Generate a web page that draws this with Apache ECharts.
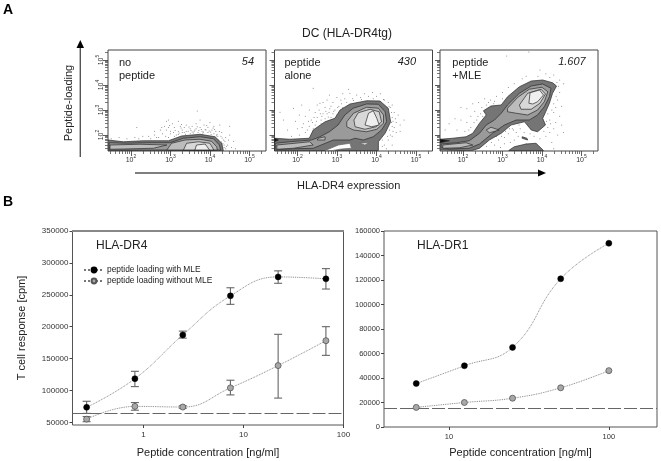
<!DOCTYPE html>
<html><head><meta charset="utf-8">
<style>html,body{margin:0;padding:0;background:#fff}#c{width:661px;height:461px}</style>
<script src="https://cdn.jsdelivr.net/npm/echarts@6/dist/echarts.min.js"></script></head>
<body><div id="c"></div>
<script>
// ---------- Panel A: flow cytometry, coordinates in log10 decades ----------
const flowMajorDecades = [2, 3, 4, 5];
const flowMinorMultipliers = [2, 3, 4, 5, 6, 7, 8, 9];
const panelNames = ['no\npeptide', 'peptide\nalone', 'peptide\n+MLE'];
const panelCounts = ['54', '430', '1.607'];

const p1Levels = [0, 1, 2, 2, 3, 4];
const p1Contours = [
 [[1.42,1.37],[1.42,1.80],[1.81,1.73],[2.31,1.77],[2.95,1.77],[3.28,1.96],[3.75,2.03],[4.13,1.93],[4.30,1.67],[4.34,1.37]],
 [[1.45,1.40],[1.45,1.69],[1.89,1.67],[2.40,1.69],[2.99,1.69],[3.33,1.87],[3.75,1.93],[4.09,1.85],[4.24,1.60],[4.27,1.40]],
 [[2.91,1.40],[3.03,1.67],[3.37,1.80],[3.75,1.83],[4.04,1.75],[4.17,1.53],[4.19,1.40]],
 [[1.47,1.60],[2.23,1.63],[2.91,1.60],[2.57,1.47],[1.81,1.44],[1.47,1.43]],
 [[3.33,1.40],[3.41,1.67],[3.71,1.73],[4.00,1.67],[4.10,1.40]],
 [[3.62,1.40],[3.66,1.60],[3.88,1.64],[3.99,1.40]]
];
const p1Dots = [[1.5,1.85],[1.7,1.9],[1.9,1.85],[2.15,2.3],[2.1,1.9],[2.3,1.95],[2.45,1.95],[2.6,2.0],[2.6,2.15],[2.75,2.2],[2.8,2.05],[2.85,2.35],[2.9,2.55],[2.9,2.2],[2.95,2.6],[3.0,2.15],[3.0,2.05],[3.05,2.45],[3.1,2.3],[3.15,2.0],[3.2,2.55],[3.2,2.15],[3.25,2.35],[3.3,2.2],[3.35,2.1],[3.35,2.3],[3.4,2.4],[3.45,2.15],[3.5,2.25],[3.5,2.05],[3.55,2.35],[3.6,2.15],[3.65,2.45],[3.65,2.25],[3.7,2.1],[3.75,2.6],[3.75,2.3],[3.8,2.15],[3.85,2.4],[3.9,2.2],[3.95,2.3],[3.95,2.1],[4.0,2.5],[4.05,2.2],[4.1,2.35],[4.1,2.05],[4.15,2.15],[4.2,1.95],[4.25,2.4],[4.3,2.1],[4.35,1.8],[4.4,1.9],[4.45,1.6],[4.5,2.0],[4.5,2.35],[4.55,1.5],[4.6,1.75],[4.4,1.45],[4.65,1.45],[3.68,2.96],[3.3,2.1],[3.4,2.15],[3.55,2.12],[3.62,2.2],[3.72,2.18],[3.82,2.08],[3.88,2.22],[4.02,2.12],[4.08,2.28],[4.18,2.02],[4.22,1.8],[4.28,1.95],[4.33,1.65],[4.38,1.75],[4.42,1.55],[2.2,1.85],[2.5,1.85],[2.7,1.9],[2.95,1.9],[3.1,1.95],[3.2,2.02],[2.95,2.3],[3.12,2.18],[3.28,2.42],[3.22,2.08],[3.27,2.28],[3.38,2.03],[3.47,2.32],[3.52,2.18],[3.58,2.08],[3.68,2.33],[3.78,2.22],[3.84,2.12],[3.92,2.38],[3.98,2.16],[4.03,2.02],[4.12,2.22],[4.17,1.97],[4.24,2.14],[4.31,1.88],[4.36,1.6],[4.29,1.72],[4.47,1.8],[4.36,1.5],[3.08,2.1],[2.98,2.38],[2.88,1.95],[2.78,2.3],[2.65,1.9]];

const p2Levels = [0, 6, 6, 1, 2, 3, 4, 2, 2, 5];
const p2Contours = [
 [[1.42,1.38],[1.42,1.87],[1.81,1.83],[2.30,1.87],[2.40,2.20],[2.70,2.53],[2.95,2.67],[3.08,3.00],[3.33,3.24],[3.75,3.37],[4.09,3.36],[4.30,3.07],[4.36,2.53],[4.22,2.07],[4.05,1.73],[4.05,1.38]],
 [[3.04,1.60],[3.33,1.67],[3.37,1.47],[3.12,1.44],[2.90,1.38],[2.70,1.38]],
 [[3.58,1.67],[3.80,1.69],[3.71,1.60]],
 [[1.45,1.43],[1.45,1.67],[1.81,1.73],[2.36,1.80],[2.57,1.93],[2.81,2.13],[3.03,2.40],[3.20,2.80],[3.41,3.07],[3.75,3.24],[4.05,3.23],[4.22,2.93],[4.26,2.53],[4.13,2.20],[3.92,1.93],[3.67,1.80],[3.46,1.87],[3.33,1.80],[2.91,1.80],[2.40,1.47]],
 [[3.25,2.53],[3.42,2.87],[3.75,3.11],[4.05,3.07],[4.18,2.80],[4.18,2.47],[4.01,2.23],[3.75,2.13],[3.42,2.20],[3.25,2.33]],
 [[3.43,2.60],[3.54,2.89],[3.84,3.03],[4.07,2.93],[4.13,2.53],[3.99,2.33],[3.71,2.23],[3.46,2.33]],
 [[3.71,2.40],[3.80,2.87],[3.92,2.97],[4.01,2.67],[4.07,2.40],[3.88,2.33]],
 [[1.48,1.60],[2.00,1.68],[2.31,1.73],[2.40,1.60],[1.90,1.47],[1.48,1.43]],
 [[2.53,1.87],[2.70,1.93],[2.70,1.80],[2.50,1.80]],
 [[1.42,1.87],[1.52,1.80],[1.42,1.73]]
];
const p2Dots = [[1.56,2.91],[1.65,2.6],[1.75,2.2],[1.9,3.07],[1.95,2.55],[2.0,2.25],[2.05,2.8],[2.11,3.2],[2.15,2.45],[2.2,2.1],[2.2,2.75],[2.3,3.0],[2.3,2.35],[2.35,2.6],[2.4,3.87],[2.45,2.9],[2.45,2.4],[2.5,3.2],[2.5,2.7],[2.55,3.0],[2.57,3.27],[2.6,2.6],[2.65,3.3],[2.65,2.85],[2.7,3.1],[2.7,2.65],[2.75,3.4],[2.8,2.9],[2.81,3.6],[2.85,3.15],[2.85,2.7],[2.9,3.3],[2.95,3.0],[3.0,3.5],[3.05,3.15],[3.1,3.4],[3.15,3.65],[3.2,3.45],[3.29,3.83],[3.33,3.67],[3.4,3.45],[3.5,3.6],[3.6,3.5],[3.7,3.65],[3.8,3.55],[3.9,3.7],[4.0,3.55],[4.1,3.65],[4.2,3.4],[4.3,3.3],[4.35,3.1],[4.4,3.2],[4.45,2.9],[4.4,2.7],[4.5,2.5],[4.55,2.8],[4.45,2.3],[4.6,2.4],[4.5,2.1],[4.4,1.95],[4.3,1.8],[4.4,1.6],[4.2,1.6],[4.25,1.45],[4.6,2.15],[4.7,2.6],[2.25,2.2],[2.4,2.25],[2.55,2.35],[2.38,2.5],[2.6,2.45],[2.75,2.85],[2.9,2.85],[3.0,2.8],[3.15,3.1],[3.25,3.3],[4.38,2.5],[4.42,2.15],[4.35,2.0],[4.48,2.65],[1.85,1.95],[2.05,2.0],[2.48,2.55],[2.62,2.75],[2.72,2.95],[2.58,2.85],[2.78,2.72],[2.82,3.05],[2.92,2.95],[3.02,3.1],[3.12,3.25],[3.42,3.38],[3.62,3.42],[3.92,3.45],[4.18,3.42],[4.32,3.15],[4.38,2.9],[4.42,2.55],[4.4,2.35],[4.33,2.2],[4.28,1.95],[4.15,1.8],[4.15,1.55],[2.28,2.55],[2.42,2.7],[2.12,2.3]];

const p3Levels = [0, 0, 0, 1, 2, 2, 2, 3, 4, 5];
const p3Contours = [
 [[1.42,1.40],[1.42,1.83],[1.74,1.87],[2.08,1.93],[2.25,2.07],[2.42,2.47],[2.59,2.80],[2.52,2.97],[2.71,3.16],[2.97,3.20],[3.13,3.53],[3.43,3.93],[3.73,4.16],[4.02,4.20],[4.27,4.09],[4.37,3.96],[4.27,3.67],[4.19,3.27],[4.06,2.80],[4.02,2.67],[4.09,2.40],[3.89,2.13],[3.73,2.20],[3.56,2.53],[3.22,2.40],[2.97,2.07],[2.67,1.80],[2.42,1.47],[2.21,1.37]],
 [[3.16,1.38],[3.30,1.53],[3.60,1.64],[3.85,1.67],[4.04,1.38]],
 [[3.50,1.93],[3.62,1.87],[3.64,1.80],[3.50,1.87]],
 [[1.45,1.51],[1.45,1.64],[1.83,1.69],[2.16,1.77],[2.42,2.07],[2.59,2.40],[2.80,2.60],[2.97,2.87],[3.13,3.20],[3.43,3.67],[3.73,3.96],[4.02,4.04],[4.23,3.87],[4.19,3.53],[4.06,3.13],[3.89,2.80],[3.68,2.60],[3.35,2.60],[3.05,2.40],[2.75,2.07],[2.42,1.64],[2.16,1.47],[1.66,1.44]],
 [[3.13,3.07],[3.39,3.51],[3.68,3.83],[4.00,3.91],[4.15,3.73],[4.06,3.33],[3.89,3.00],[3.64,2.80],[3.35,2.87],[3.13,2.93]],
 [[2.71,2.31],[2.92,2.20],[2.67,2.09],[2.59,2.20]],
 [[1.49,1.60],[2.08,1.69],[2.25,1.60],[1.91,1.49],[1.49,1.47]],
 [[3.43,3.20],[3.64,3.67],[3.98,3.83],[4.09,3.64],[3.95,3.27],[3.73,3.03],[3.47,3.03]],
 [[3.67,3.27],[3.70,3.69],[3.94,3.80],[4.04,3.60],[3.89,3.33],[3.77,3.24]],
 [[1.42,1.83],[1.66,1.77],[1.42,1.69]]
];
const p3Dots = [[3.67,5.32],[3.11,5.16],[3.95,4.6],[4.1,4.45],[4.3,4.4],[3.6,4.35],[4.45,4.2],[4.55,4.05],[3.5,4.25],[3.3,4.05],[3.15,3.9],[3.0,3.7],[2.85,3.55],[2.7,3.4],[2.55,3.45],[2.4,3.3],[2.25,3.25],[2.1,3.05],[1.95,3.1],[1.8,2.65],[1.65,2.45],[1.55,2.2],[1.95,2.6],[2.1,2.5],[2.2,2.75],[2.3,2.95],[2.35,2.6],[2.2,2.3],[2.05,2.15],[1.85,2.2],[2.45,2.85],[2.65,3.3],[2.8,3.35],[3.0,3.45],[4.45,3.7],[4.4,3.4],[4.5,3.15],[4.35,3.1],[4.3,2.9],[4.45,2.75],[4.2,2.6],[4.35,2.5],[4.5,2.4],[4.3,2.25],[4.2,2.1],[4.4,2.0],[4.1,1.95],[4.25,1.7],[3.95,1.85],[3.8,1.95],[3.7,2.05],[3.45,2.25],[3.35,2.1],[3.25,2.25],[3.15,2.05],[3.05,1.9],[2.9,1.8],[3.05,1.65],[2.8,1.6],[2.6,1.55],[3.3,1.8],[3.4,1.95],[3.55,2.1],[3.6,1.65],[3.2,1.7],[2.95,1.5],[4.3,1.45],[4.15,2.3],[4.55,2.1],[4.05,2.15],[3.9,4.35],[4.2,4.3],[4.38,4.1],[4.42,3.95],[4.36,3.55],[4.3,3.25],[4.25,3.0],[4.15,2.85],[4.22,2.45],[4.12,2.55],[3.28,2.2],[3.42,2.4],[3.18,2.25],[3.08,2.15],[2.98,1.95],[2.85,1.95],[2.72,1.7],[2.5,2.75],[2.38,2.75],[2.48,3.1],[2.6,3.2],[2.78,3.25],[2.15,2.2],[2.28,2.5]];

// ---------- Panel B ----------
const seriesWith = 'peptide loading with MLE', seriesWithout = 'peptide loading without MLE';
const dr4Conc = [0.27, 0.82, 2.47, 7.4, 22.2, 66.7];
const dr4With = [73500, 118400, 187000, 248300, 278000, 275000];
const dr4WithLow = [64000, 106000, 182000, 235000, 268000, 259000];
const dr4WithHigh = [83000, 130000, 193000, 261000, 287500, 291000];
const dr4Without = [55000, 75000, 74000, 104000, 139000, 178000];
const dr4WithoutLow = [51000, 69000, 72000, 93000, 88000, 155000];
const dr4WithoutHigh = [59000, 81000, 76000, 116000, 188000, 200000];
const dr4Baseline = 64000;
const dr4YTicks = [50000, 100000, 150000, 200000, 250000, 300000, 350000];
const dr1Conc = [6.25, 12.5, 25, 50, 100];
const dr1With = [35500, 50000, 65000, 121000, 150000];
const dr1Without = [16000, 20000, 23500, 32000, 46000];
const dr1Baseline = 15000;
const xLabel = 'Peptide concentration [ng/ml]';

const FONT = '"Liberation Sans", Arial, sans-serif';
const levelFill = ['#757575', '#9a9a9a', '#bcbcbc', '#d8d8d8', '#efefef', '#111111', '#ffffff'];
const flowLeft = [108, 274.5, 440];
const contours = [p1Contours, p2Contours, p3Contours];
const levels = [p1Levels, p2Levels, p3Levels];
const dots = [p1Dots, p2Dots, p3Dots];
const pair = (xs, ys) => xs.map((x, i) => [x, ys[i]]);

const minorDecades = [];
[1, 2, 3, 4, 5].forEach(d => flowMinorMultipliers.forEach(m => {
  const v = d + Math.log10(m);
  if (v > 1.42 && v < 5.42) minorDecades.push(+v.toFixed(3));
}));

const grid = [], xAxis = [], yAxis = [], series = [];
const tickFmt = v => '{b|10}{s|' + Math.round(v) + '}';
const rich = {
  b: { fontSize: 7, fontFamily: FONT, color: '#333', lineHeight: 10, verticalAlign: 'bottom' },
  s: { fontSize: 5, fontFamily: FONT, color: '#333', lineHeight: 10, verticalAlign: 'top' }
};
flowLeft.forEach((left, p) => {
  grid.push({ left, top: 50, width: 158, height: 101, show: true, borderColor: '#444', borderWidth: 1, backgroundColor: '#fff' });
  const base = xAxis.length;
  const common = { type: 'value', gridIndex: p, splitLine: { show: false }, axisLine: { show: false } };
  xAxis.push({ ...common, min: 1.42, max: 5.42, position: 'bottom',
    axisTick: { length: 5, lineStyle: { color: '#333', width: 0.8 }, customValues: flowMajorDecades },
    axisLabel: { customValues: flowMajorDecades, formatter: tickFmt, rich, margin: 3 } });
  xAxis.push({ ...common, min: 1.42, max: 5.42, position: 'bottom',
    axisTick: { length: 3, lineStyle: { color: '#555', width: 0.8 }, customValues: minorDecades },
    axisLabel: { show: false } });
  yAxis.push({ ...common, min: 1.36, max: 5.4, position: 'left',
    axisTick: { length: 5, lineStyle: { color: '#333', width: 0.8 }, customValues: flowMajorDecades },
    axisLabel: p === 0 ? { customValues: flowMajorDecades, formatter: tickFmt, rich, rotate: 90, margin: 3 } : { show: false } });
  yAxis.push({ ...common, min: 1.36, max: 5.4, position: 'left',
    axisTick: { length: 3, lineStyle: { color: '#555', width: 0.8 }, customValues: minorDecades },
    axisLabel: { show: false } });
  series.push({
    type: 'scatter', xAxisIndex: base, yAxisIndex: base, data: dots[p], symbolSize: 1,
    itemStyle: { color: '#555' }, silent: true, z: 2
  });
  series.push({
    type: 'custom', xAxisIndex: base, yAxisIndex: base, silent: true, z: 3, clip: true,
    coordinateSystem: 'cartesian2d',
    data: contours[p].map((_, i) => [i]),
    renderItem: (params, api) => {
      const i = params.dataIndex;
      return { type: 'polygon',
        shape: { points: contours[p][i].map(c => api.coord(c)) },
        style: { fill: levelFill[levels[p][i]], stroke: levels[p][i] === 6 ? '#666' : '#2a2a2a', lineWidth: 0.7, lineJoin: 'round' } };
    }
  });
});

// Panel B grids
const gL = grid.length, gR = gL + 1;
grid.push({ left: 72.5, top: 231, width: 271, height: 194, show: true, borderColor: '#555', borderWidth: 1 });
grid.push({ left: 384, top: 231, width: 273, height: 196, show: true, borderColor: '#555', borderWidth: 1 });
const ixL = xAxis.length, ixR = ixL + 1;
const tickStyle = { length: 3, lineStyle: { color: '#444', width: 1 } };
const plainNum = v => String(v);
xAxis.push({ type: 'log', logBase: 10, gridIndex: gL, min: 0.195, max: 100, splitLine: { show: false }, axisLine: { show: false },
  axisTick: { ...tickStyle, customValues: [1, 10, 100] },
  axisLabel: { customValues: [1, 10, 100], formatter: plainNum, fontSize: 8, fontFamily: FONT, color: '#333', margin: 6 },
  name: xLabel, nameLocation: 'middle', nameGap: 22, nameTextStyle: { fontSize: 11, fontFamily: FONT, color: '#222' } });
xAxis.push({ type: 'log', logBase: 10, gridIndex: gR, min: 3.93, max: 200, splitLine: { show: false }, axisLine: { show: false },
  axisTick: { ...tickStyle, customValues: [10, 100] },
  axisLabel: { customValues: [10, 100], formatter: plainNum, fontSize: 7.5, fontFamily: FONT, color: '#333', margin: 6 },
  name: xLabel, nameLocation: 'middle', nameGap: 20, nameTextStyle: { fontSize: 11, fontFamily: FONT, color: '#222' } });
yAxis.push({ type: 'value', gridIndex: gL, min: 45800, max: 350000, splitLine: { show: false }, axisLine: { show: false },
  axisTick: { ...tickStyle, customValues: dr4YTicks },
  axisLabel: { customValues: dr4YTicks, formatter: plainNum, fontSize: 8, fontFamily: FONT, color: '#333', margin: 4 },
  name: 'T cell response [cpm]', nameLocation: 'middle', nameGap: 45, nameTextStyle: { fontSize: 11, fontFamily: FONT, color: '#222' } });
yAxis.push({ type: 'value', gridIndex: gR, min: 0, max: 160000, interval: 20000, splitLine: { show: false }, axisLine: { show: false },
  axisTick: tickStyle,
  axisLabel: { formatter: plainNum, fontSize: 7.5, fontFamily: FONT, color: '#333', margin: 4 } });

function lineSeries(name, xi, xs, ys, black, baseline) {
  const s = {
    type: 'line', name, xAxisIndex: xi, yAxisIndex: xi, data: pair(xs, ys), smooth: 0.45,
    symbol: 'circle', symbolSize: 6, z: 5,
    lineStyle: { type: 'dotted', color: '#777', width: 0.9 },
    itemStyle: black ? { color: '#000', borderColor: '#000', borderWidth: 0.5 } : { color: '#a8a8a8', borderColor: '#555', borderWidth: 0.8 }
  };
  if (baseline !== undefined) s.markLine = {
    silent: true, symbol: 'none', label: { show: false },
    lineStyle: { type: [13, 3], color: '#666', width: 1 }, data: [{ yAxis: baseline }]
  };
  return s;
}
function errSeries(xi, xs, low, high) {
  return {
    type: 'custom', xAxisIndex: xi, yAxisIndex: xi, silent: true, z: 4,
    data: xs.map((x, i) => [x, low[i], high[i]]),
    renderItem: (params, api) => {
      const a = api.coord([api.value(0), api.value(1)]), b = api.coord([api.value(0), api.value(2)]);
      const st = { stroke: '#666', lineWidth: 1.1, fill: 'none' };
      return { type: 'group', children: [
        { type: 'line', shape: { x1: a[0], y1: a[1], x2: b[0], y2: b[1] }, style: st },
        { type: 'line', shape: { x1: a[0] - 4, y1: a[1], x2: a[0] + 4, y2: a[1] }, style: st },
        { type: 'line', shape: { x1: b[0] - 4, y1: b[1], x2: b[0] + 4, y2: b[1] }, style: st }
      ] };
    }
  };
}
series.push(errSeries(ixL, dr4Conc, dr4WithLow, dr4WithHigh));
series.push(errSeries(ixL, dr4Conc, dr4WithoutLow, dr4WithoutHigh));
series.push(lineSeries(seriesWith, ixL, dr4Conc, dr4With, true, dr4Baseline));
series.push(lineSeries(seriesWithout, ixL, dr4Conc, dr4Without, false));
series.push(lineSeries(seriesWith, ixR, dr1Conc, dr1With, true, dr1Baseline));
series.push(lineSeries(seriesWithout, ixR, dr1Conc, dr1Without, false));

const tStyle = (size, extra) => ({ fontSize: size, fontFamily: FONT, color: '#222', fontWeight: 'normal', ...extra });
const title = [
  { text: 'A', left: 3, top: 3, padding: 0, textStyle: tStyle(14, { fontWeight: 'bold', color: '#000' }) },
  { text: 'B', left: 3, top: 195, padding: 0, textStyle: tStyle(14, { fontWeight: 'bold', color: '#000' }) },
  { text: 'DC (HLA-DR4tg)', left: 302, top: 28, padding: 0, textStyle: tStyle(12) },
  { text: 'HLA-DR4', left: 96, top: 240, padding: 0, textStyle: tStyle(12) },
  { text: 'HLA-DR1', left: 417, top: 240, padding: 0, textStyle: tStyle(12) }
];

const labelX = [119, 284.5, 452.3], countX = [254, 416, 585.7];
const graphic = [
  { type: 'line', shape: { x1: 80.3, y1: 157, x2: 80.3, y2: 46 }, style: { stroke: '#555', lineWidth: 1.4 } },
  { type: 'polygon', shape: { points: [[80.3, 40], [76.5, 48], [84, 48]] }, style: { fill: '#000' } },
  { type: 'line', shape: { x1: 135, y1: 173, x2: 539, y2: 173 }, style: { stroke: '#555', lineWidth: 1.4 } },
  { type: 'polygon', shape: { points: [[546, 173], [538, 169.5], [538, 176.5]] }, style: { fill: '#000' } },
  { type: 'line', z: 10, shape: { x1: 72, y1: 231, x2: 344, y2: 231 }, style: { stroke: '#888', lineWidth: 2 } },
  { type: 'text', x: 69, y: 103, rotation: Math.PI / 2, style: { text: 'Peptide-loading', font: '11px ' + FONT, fill: '#222', align: 'center', verticalAlign: 'middle' } },
  { type: 'text', style: { text: 'HLA-DR4 expression', x: 297, y: 186, font: '11px ' + FONT, fill: '#222', verticalAlign: 'middle' } }
];
panelNames.forEach((t, i) => {
  graphic.push({ type: 'text', z: 10, style: { text: t, x: labelX[i], y: 56, font: '11px ' + FONT, lineHeight: 13, fill: '#222' } });
  graphic.push({ type: 'text', z: 10, style: { text: panelCounts[i], x: countX[i], y: 56, font: 'italic 11px ' + FONT, fill: '#222', align: 'right' } });
});

const chart = echarts.init(document.getElementById('c'), null, { renderer: 'canvas' });
chart.setOption({
  animation: false, backgroundColor: '#fff', title, grid, xAxis, yAxis, series, graphic,
  legend: {
    data: [seriesWith, seriesWithout], orient: 'vertical', left: 83, top: 266, itemWidth: 20, itemHeight: 6,
    itemGap: 3, padding: 0, selectedMode: false, textStyle: { fontSize: 8.4, fontFamily: FONT, color: '#222', padding: [0, 0, 0, -2] }
  }
});
</script></body></html>
